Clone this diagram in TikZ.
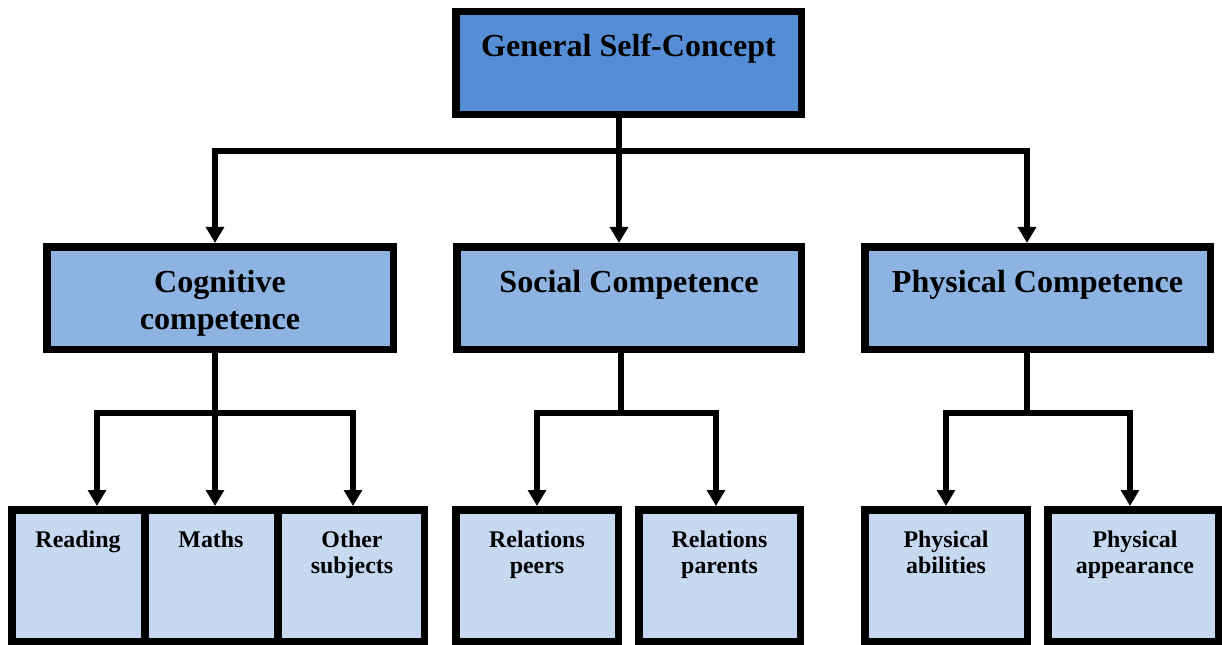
\documentclass[tikz,border=0pt]{standalone}
\usepackage{fontspec}
\setmainfont{Liberation Serif}
\usetikzlibrary{arrows.meta}
\newdimen\pxu \pxu=0.025cm
\definecolor{topblue}{HTML}{558ED5}
\definecolor{midblue}{HTML}{8DB3E2}
\definecolor{lowblue}{HTML}{C6D9F1}
\tikzset{
  box/.style={draw=black, line width=7.5\pxu, inner sep=0pt},
  bigtext/.style={anchor=base, align=center, font=\bfseries\fontsize{22.8}{26.2}\selectfont},
  smalltext/.style={anchor=base, align=center, font=\bfseries\fontsize{17}{18.4}\selectfont},
  link/.style={line width=5.5\pxu},
  arr/.style={link, -{Triangle[width=0.44cm,length=0.4cm]}}
}
\begin{document}
\begin{tikzpicture}[x=0.025cm, y=-0.025cm]
\useasboundingbox (0,0) rectangle (1222,644);

\node[box, fill=topblue, minimum width=345.5\pxu, minimum height=102.5\pxu] (gsc) at (628.5,63) {};

\node[box, fill=midblue, minimum width=346.5\pxu, minimum height=102.5\pxu] (cog) at (220,298) {};
\node[box, fill=midblue, minimum width=344.5\pxu, minimum height=102.5\pxu] (soc) at (629,298) {};
\node[box, fill=midblue, minimum width=345.5\pxu, minimum height=102.5\pxu] (phy) at (1037.5,298) {};

\node[box, fill=lowblue, minimum width=132.5\pxu, minimum height=131.5\pxu] (rea) at (78,575.5) {};
\node[box, fill=lowblue, minimum width=132.5\pxu, minimum height=131.5\pxu] (mat) at (211,575.5) {};
\node[box, fill=lowblue, minimum width=146.5\pxu, minimum height=131.5\pxu] (oth) at (351,575.5) {};
\node[box, fill=lowblue, minimum width=162.5\pxu, minimum height=131.5\pxu] (rpe) at (537,575.5) {};
\node[box, fill=lowblue, minimum width=161.5\pxu, minimum height=131.5\pxu] (rpa) at (719.5,575.5) {};
\node[box, fill=lowblue, minimum width=162.5\pxu, minimum height=131.5\pxu] (pab) at (946,575.5) {};
\node[box, fill=lowblue, minimum width=170.5\pxu, minimum height=131.5\pxu] (pap) at (1133,575.5) {};

\node[bigtext] (gsct) at (628.5,57) {General Self-Concept};
\node[bigtext] (cogt) at (220,329) {Cognitive\\competence};
\node[bigtext] (soct) at (629,292) {Social Competence};
\node[bigtext] (phyt) at (1037.5,292) {Physical Competence};

\node[smalltext] (reat) at (78,547) {Reading};
\node[smalltext] (matt) at (211,547) {Maths};
\node[smalltext] (otht) at (352,573) {Other\\subjects};
\node[smalltext] (rpet) at (537,573) {Relations\\peers};
\node[smalltext] (rpat) at (719.5,573) {Relations\\parents};
\node[smalltext] (pabt) at (946,573) {Physical\\abilities};
\node[smalltext] (papt) at (1135,573) {Physical\\appearance};

\coordinate (c0) at (619,151);
\coordinate (c1) at (215,413);
\coordinate (c2) at (621,413);
\coordinate (c3) at (1027,413);

\draw[arr] (gsc.south -| c0) -- (soc.north -| c0);
\draw[arr] (c0) -| (c1 |- cog.north);
\draw[arr] (c0) -| (c3 |- phy.north);

\draw[arr] (c1 |- cog.south) -- (c1 |- mat.north);
\draw[arr] (c1) -| ([xshift=19\pxu]rea.north);
\draw[arr] (c1) -| ([xshift=2\pxu]oth.north);

\draw[link] (c2 |- soc.south) -- (c2);
\draw[arr] (c2) -| (rpe.north);
\draw[arr] (c2) -| ([xshift=-3.5\pxu]rpa.north);

\draw[link] (c3 |- phy.south) -- (c3);
\draw[arr] (c3) -| (pab.north);
\draw[arr] (c3) -| ([xshift=-3\pxu]pap.north);
\end{tikzpicture}
\end{document}
